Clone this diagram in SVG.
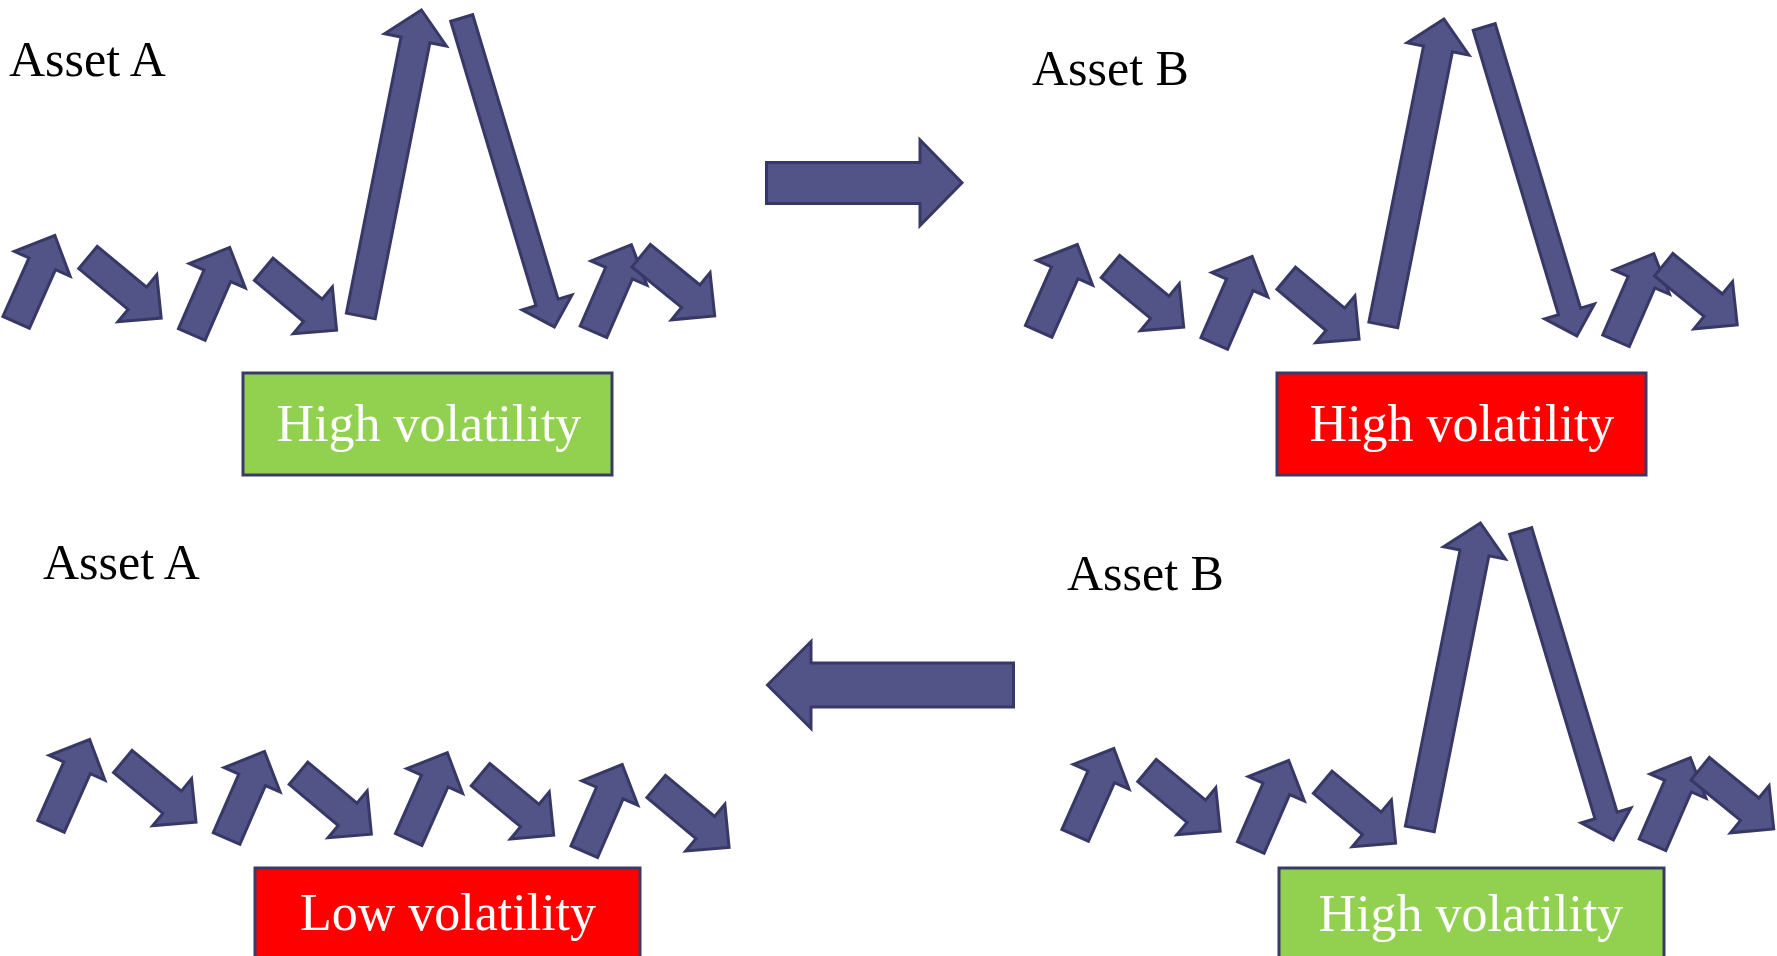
<svg xmlns="http://www.w3.org/2000/svg" xmlns:xlink="http://www.w3.org/1999/xlink" width="1777" height="956" viewBox="0 0 1777 956">
  <style>
    .arr { fill: #525488; stroke: #383866; stroke-width: 3; stroke-linejoin: miter; }
    .box { stroke: #3A3A66; stroke-width: 3; }
    .green { fill: #92D050; }
    .red { fill: #FF0000; }
    .lbl { font-family: "Liberation Serif", "Times New Roman", serif; font-size: 50px; fill: #000000; }
    .btxt { font-family: "Liberation Serif", "Times New Roman", serif; font-size: 52px; fill: #FFFFFF; text-anchor: middle; }
  </style>
  <defs>
    <path id="sa" d="M0,-14.5 H64 V-30.5 L95,0 L64,30.5 V14.5 H0 Z"/>
    <path id="bigUp" d="M0,-14.7 H281.5 V-31.5 L312,0 L281.5,31.5 V14.7 H0 Z"/>
    <path id="bigDown" d="M0,-11.5 H297 V-26 L322.5,0 L297,26 V11.5 H0 Z"/>
    <g id="pair" class="arr">
      <use href="#sa" transform="translate(16.2,322.3) rotate(-66)"/>
      <use href="#sa" transform="translate(88,257.5) rotate(39.6)"/>
      <use href="#sa" transform="translate(191.8,334.5) rotate(-66.5)"/>
      <use href="#sa" transform="translate(263.7,269.3) rotate(39.9)"/>
    </g>
    <g id="spikeSet" class="arr">
      <use href="#pair"/>
      <use href="#bigUp" transform="translate(360.8,316) rotate(-78.8)"/>
      <use href="#bigDown" transform="translate(461.7,18) rotate(73.3)"/>
      <use href="#sa" transform="translate(593.5,331.8) rotate(-66.5)"/>
      <use href="#sa" transform="translate(641.2,255.7) rotate(39.3)"/>
    </g>
  </defs>

  <rect x="0" y="0" width="1777" height="956" fill="#FFFFFF"/>

  <g id="panel-top-left">
    <text class="lbl" x="9" y="76">Asset A</text>
    <use href="#spikeSet"/>
    <g id="box-top-left">
      <rect class="box green" x="243" y="373" width="369" height="102"/>
      <text class="btxt" x="429" y="441">High volatility</text>
    </g>
  </g>

  <g id="panel-top-right">
    <text class="lbl" x="1032" y="85">Asset B</text>
    <use href="#spikeSet" transform="translate(1022.5,9)"/>
    <g id="box-top-right">
      <rect class="box red" x="1277" y="373" width="369" height="102"/>
      <text class="btxt" x="1462" y="441">High volatility</text>
    </g>
  </g>

  <g id="panel-bottom-left">
    <text class="lbl" x="43" y="579">Asset A</text>
    <use href="#pair" transform="translate(34.8,504)"/>
    <use href="#pair" transform="translate(392.5,517.2)"/>
    <g id="box-bottom-left">
      <rect class="box red" x="255" y="868" width="385" height="102"/>
      <text class="btxt" x="448" y="930">Low volatility</text>
    </g>
  </g>

  <g id="panel-bottom-right">
    <text class="lbl" x="1067" y="590">Asset B</text>
    <use href="#spikeSet" transform="translate(1059,513)"/>
    <g id="box-bottom-right">
      <rect class="box green" x="1279" y="868" width="385" height="102"/>
      <text class="btxt" x="1471" y="931">High volatility</text>
    </g>
  </g>

  <g id="connectors" class="arr">
    <path d="M766.5,162.5 H920 V140 L962,182.8 L920,225.5 V203.5 H766.5 Z"/>
    <path d="M767.5,685 L811,641.5 V663 H1013.5 V707 H811 V728.5 Z"/>
  </g>
</svg>
